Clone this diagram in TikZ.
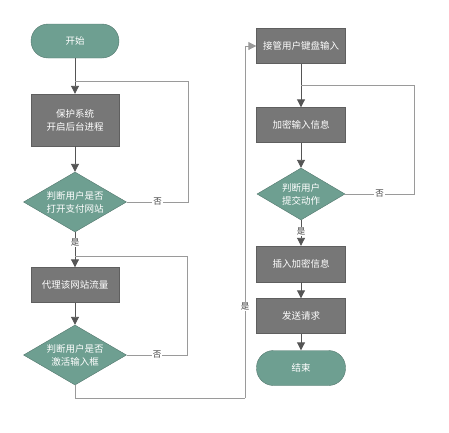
\documentclass[tikz,border=0pt]{standalone}
\usepackage{fontspec}
\newfontfamily\cjk{Noto Sans CJK SC}
\usetikzlibrary{shapes.geometric,arrows.meta,positioning}
\definecolor{flowgreen}{HTML}{6E9F91}
\definecolor{flowgray}{HTML}{777777}
\definecolor{linegray}{HTML}{555555}
\definecolor{loopgray}{HTML}{9A9A9A}
\tikzset{
  term/.style={draw=flowgreen!75!black, fill=flowgreen, rounded corners=17pt, minimum width=88, minimum height=34, text=white},
  procbox/.style={draw=flowgray!80!black, fill=flowgray, minimum width=88, minimum height=35, text=white, align=center},
  decide/.style={draw=flowgreen!75!black, fill=flowgreen, diamond, aspect=1.72, inner sep=0pt, minimum width=103, minimum height=60, text=white, align=center},
  flow/.style={draw=linegray, line width=0.9pt, -{Triangle[width=8pt,length=8pt]}},
  loopline/.style={draw=loopgray, line width=0.9pt},
  lab/.style={fill=white, inner sep=1pt, text=black!75, font=\cjk\fontsize{8.5}{10}\selectfont},
}
\begin{document}
\begin{tikzpicture}[x=1pt,y=-1pt, every node/.style={font=\cjk\fontsize{9.5}{13}\selectfont}]
    \useasboundingbox (0,0) rectangle (449,432);
    % left column
    \node[term] (start) at (75,41) {开始};
    \node[procbox, minimum height=52] (guard) at (75,120) {保护系统\\开启后台进程};
    \node[decide] (ispay) at (75,202) {判断用户是否\\打开支付网站};
    \node[procbox] (proxy) at (75,285) {代理该网站流量};
    \node[decide] (isact) at (75,355) {判断用户是否\\激活输入框};
    % right column
    \node[procbox, minimum width=89] (grab) at (301,46) {接管用户键盘输入};
    \node[procbox, minimum width=89] (enc) at (301,125) {加密输入信息};
    \node[decide, aspect=1.69, minimum width=88, minimum height=52] (issub) at (301,194) {判断用户\\提交动作};
    \node[procbox, minimum width=89, minimum height=36] (ins) at (301,264) {插入加密信息};
    \node[procbox, minimum width=89] (send) at (301,316) {发送请求};
    \node[term, minimum width=89, minimum height=35] (stop) at (301,368) {结束};
    % junctions
    \coordinate (j1) at (75,81);
    \coordinate (j2) at (75,256);
    \coordinate (j3) at (301,85);
    \coordinate (low) at (245,398);
    % main flow
    \draw[flow] (start) -- (guard);
    \draw[flow] (guard) -- (ispay);
    \draw[flow] (ispay) -- node[lab, pos=0.3]{是} (proxy);
    \draw[flow] (proxy) -- (isact);
    \draw[flow] (grab) -- (enc);
    \draw[flow] (enc) -- (issub);
    \draw[flow] (issub) -- node[lab, pos=0.45]{是} (ins);
    \draw[flow] (ins) -- (send);
    \draw[flow] (send) -- (stop);
    % loops back
    \draw[loopline] (ispay.east) -- node[lab]{否} ++(62,0) |- (j1);
    \draw[loopline] (isact.east) -- node[lab]{否} ++(61,0) |- (j2);
    \draw[loopline] (issub.east) -- node[lab]{否} ++(69,0) |- (j3);
    \draw[loopline] (isact.south) |- (low);
    \draw[loopline, -{Triangle[width=8pt,length=8pt]}] (low) -- node[lab, pos=0.26]{是} (low |- grab.west) -- (grab.west);
\end{tikzpicture}
\end{document}
